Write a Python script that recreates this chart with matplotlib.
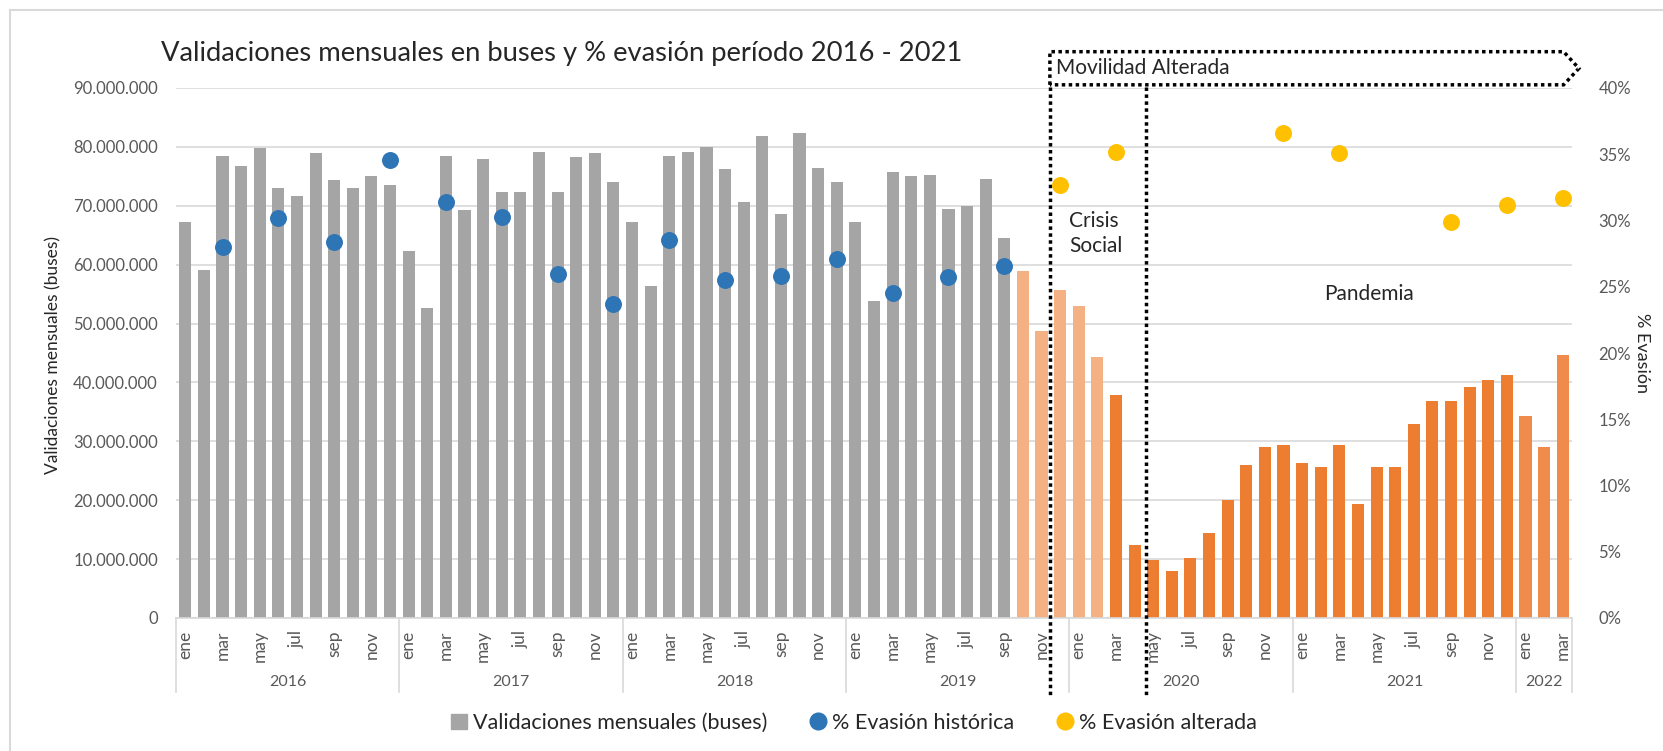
import numpy as np
import matplotlib
matplotlib.use("Agg")
import matplotlib.pyplot as plt
from matplotlib.patches import Patch, Polygon
from matplotlib.lines import Line2D
from matplotlib.ticker import FuncFormatter, MultipleLocator

plt.rcParams['font.family'] = ['Lato', 'DejaVu Sans']

# --- datos ---
meses = ['ene', 'feb', 'mar', 'abr', 'may', 'jun', 'jul', 'ago', 'sep', 'oct', 'nov', 'dic']
anios = ['2016', '2017', '2018', '2019', '2020', '2021', '2022']
meses_por_anio = [12, 12, 12, 12, 12, 12, 3]

# validaciones mensuales (millones)
validaciones = [
    67.3, 59.1, 78.4, 76.8, 79.8, 73.1, 71.6, 78.9, 74.3, 73.1, 75.1, 73.6,   # 2016
    62.4, 52.6, 78.4, 69.3, 77.9, 72.4, 72.3, 79.2, 72.4, 78.2, 78.9, 74.0,   # 2017
    67.2, 56.4, 78.4, 79.2, 80.0, 76.3, 70.6, 81.8, 68.6, 82.4, 76.5, 74.0,   # 2018
    67.2, 53.9, 75.7, 75.0, 75.3, 69.5, 69.9, 74.6, 64.6, 59.0, 48.7, 55.7,   # 2019
    53.0, 44.4, 37.9, 12.4, 9.9, 8.0, 10.2, 14.5, 20.0, 25.9, 29.0, 29.4,     # 2020
    26.4, 25.7, 29.4, 19.4, 25.6, 25.6, 32.9, 36.8, 36.8, 39.3, 40.5, 41.3,   # 2021
    34.3, 29.1, 44.6,                                                         # 2022
]
# tipo de periodo por mes: 'h' historico, 'c' crisis social, 'p' pandemia, 'n' 2022
periodo = ['h'] * 45 + ['c'] * 5 + ['p'] * 22 + ['n'] * 3

# % evasion (trimestral)
idx_hist = [2, 5, 8, 11, 14, 17, 20, 23, 26, 29, 32, 35, 38, 41, 44]
evasion_hist = [28.0, 30.2, 28.4, 34.6, 31.4, 30.3, 26.0, 23.7, 28.5, 25.5, 25.8, 27.1, 24.5, 25.7, 26.6]
idx_alt = [47, 50, 59, 62, 68, 71, 74]
evasion_alt = [32.7, 35.2, 36.6, 35.1, 29.9, 31.2, 31.7]

colores = {'h': '#A5A5A5', 'c': '#F4B183', 'p': '#ED7D31', 'n': '#F08C4B'}
AZUL = '#2E75B6'
AMARILLO = '#FFC000'
GRIS_TXT = '#595959'
GRID = '#D9D9D9'

W, H = 1663, 751
fig = plt.figure(figsize=(W / 100, H / 100), dpi=100)
ax = fig.add_axes([176 / W, 1 - 618 / H, (1572 - 176) / W, (618 - 88) / H])

x = np.arange(len(validaciones))
ax.bar(x, np.array(validaciones) * 1e6, width=0.65,
       color=[colores[p] for p in periodo], zorder=2)
ax.set_xlim(-0.5, len(validaciones) - 0.5)
ax.set_ylim(0, 90e6)
ax.yaxis.set_major_locator(MultipleLocator(10e6))
ax.yaxis.set_major_formatter(FuncFormatter(lambda v, p: f"{int(v):,}".replace(',', '.')))
ax.grid(axis='y', color=GRID, lw=1.2, zorder=0)
for s in ['top', 'right', 'left']:
    ax.spines[s].set_visible(False)
ax.spines['bottom'].set_color(GRID)
ax.spines['bottom'].set_linewidth(1.2)
ax.tick_params(axis='y', length=0, pad=13, labelsize=12, labelcolor=GRIS_TXT)

# etiquetas de meses (cada dos meses)
etiquetas = []
for n in meses_por_anio:
    etiquetas += meses[:n]
pos = x[::2]
ax.set_xticks(pos)
ax.set_xticklabels([etiquetas[i] for i in pos], rotation=90, va='top', ha='center')
ax.tick_params(axis='x', length=0, pad=9, labelsize=12.5, labelcolor=GRIS_TXT)

# anios y separadores
trans = ax.get_xaxis_transform()
inicio = -0.5
for a, n in zip(anios, meses_por_anio):
    ax.add_line(Line2D([inicio, inicio], [0, -0.14], transform=trans, color=GRID, lw=1.2, clip_on=False))
    ax.text(inicio + n / 2, -0.12, a, transform=trans, ha='center', va='center',
            fontsize=11.5, color=GRIS_TXT)
    inicio += n
ax.add_line(Line2D([inicio, inicio], [0, -0.14], transform=trans, color=GRID, lw=1.2, clip_on=False))

# eje secundario: % evasion
ax2 = ax.twinx()
ax2.set_ylim(0, 40)
ax2.yaxis.set_major_locator(MultipleLocator(5))
ax2.yaxis.set_major_formatter(FuncFormatter(lambda v, p: f"{int(v)}%"))
for s in ax2.spines.values():
    s.set_visible(False)
ax2.tick_params(axis='y', length=0, pad=19, labelsize=12, labelcolor=GRIS_TXT)
ax2.scatter(idx_hist, evasion_hist, s=125, color=AZUL, zorder=3)
ax2.scatter(idx_alt, evasion_alt, s=125, color=AMARILLO, zorder=3)

# lineas punteadas y anotaciones
for xv in [46.45, 51.6]:
    ax.add_line(Line2D([xv, xv], [1.002, -0.151], transform=trans, color='black',
                       lw=2.5, ls=(0, (1, 1)), clip_on=False, zorder=5))
caja = Polygon([[46.45, 1.006], [46.45, 1.0685], [74.05, 1.0685], [74.87, 1.037], [74.05, 1.006]],
               closed=True, fill=False, edgecolor='black', lw=2.5, ls=(0, (1, 1)),
               transform=trans, clip_on=False, zorder=5)
ax.add_patch(caja)
ax.text(46.8, 1.038, 'Movilidad Alterada', transform=trans, ha='left', va='center',
        fontsize=15, color='#262626')
ax.text(47.5, 0.7255, 'Crisis\nSocial', transform=trans, ha='left', va='center',
        fontsize=15, color='#262626', linespacing=1.3)
ax.text(63.6, (618 - 294) / 530, 'Pandemia', transform=trans, ha='center', va='center',
        fontsize=15, color='#262626')

# titulos
fig.text(161 / W, 1 - 53 / H, 'Validaciones mensuales en buses y % evasión período 2016 - 2021',
         ha='left', va='center', fontsize=19.7, color='#262626')
fig.text(53 / W, 1 - 355 / H, 'Validaciones mensuales (buses)', rotation=90,
         ha='center', va='center', fontsize=12.5, color='#262626')
fig.text(1642 / W, 1 - 353 / H, '% Evasión', rotation=270,
         ha='center', va='center', fontsize=13, color='#262626')

# leyenda
handles = [
    Patch(color=colores['h']),
    Line2D([], [], marker='o', ls='', color=AZUL, markersize=12),
    Line2D([], [], marker='o', ls='', color=AMARILLO, markersize=12),
]
labels = ['Validaciones mensuales (buses)', '% Evasión histórica', '% Evasión alterada']
fig.legend(handles, labels, loc='center', bbox_to_anchor=(854 / W, 1 - 723 / H), ncol=3,
           frameon=False, fontsize=15.5, handlelength=0.7, handletextpad=0.3,
           columnspacing=2.0, labelcolor='#262626')

# borde del grafico
fig.add_artist(Line2D([10 / W, 10 / W], [0, 1 - 10 / H], transform=fig.transFigure, color=GRID, lw=1.5))
fig.add_artist(Line2D([10 / W, 1], [1 - 10 / H, 1 - 10 / H], transform=fig.transFigure, color=GRID, lw=1.5))

fig.savefig('out.png', dpi=100)
